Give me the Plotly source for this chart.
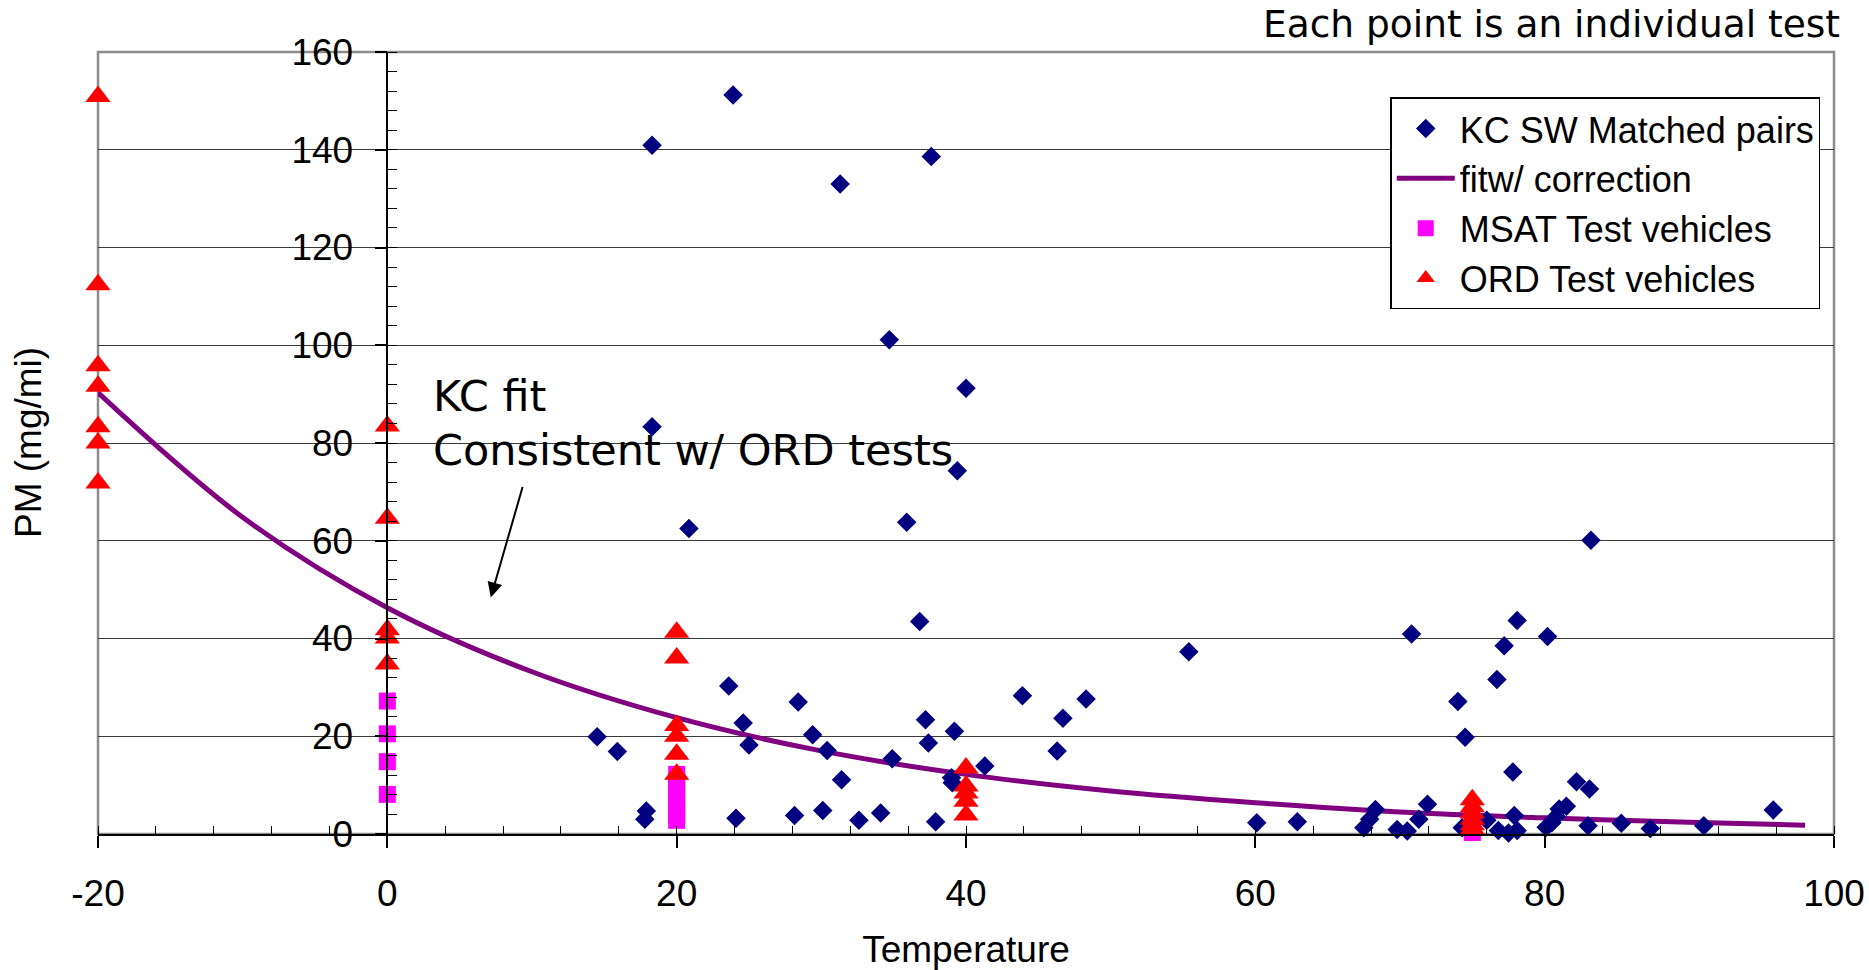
import plotly.graph_objects as go

# ---------------- data ----------------
kc_x = [18.3, 23.9, 31.3, 37.6, 34.7, 40.0, 18.3, 39.4, 35.9, 20.85,
        36.8, 55.4, 23.6, 28.4, 43.9, 48.3, 46.7, 37.2, 24.6, 39.2,
        29.4, 14.5, 37.4, 25.0, 15.9, 30.4, 46.3, 34.9, 41.3, 31.4,
        39.0, 39.05, 17.9, 17.8, 24.1, 28.15, 30.1, 32.6, 34.1, 37.9,
        60.1, 62.9, 68.3, 67.9, 67.5, 69.8, 70.5, 71.3, 71.9, 70.8,
        74.0, 74.5, 74.3, 76.0, 76.7, 77.2, 78.1, 76.8, 77.5, 78.1,
        77.9, 77.8, 80.2, 80.1, 80.5, 80.8, 81.0, 81.5, 82.2, 83.1,
        83.2, 83.0, 85.3, 87.3, 91.0, 95.8]
kc_y = [140.9, 151.2, 133.0, 138.6, 101.1, 91.2, 83.3, 74.3, 63.8, 62.5,
        43.5, 37.3, 30.3, 27.0, 28.3, 27.6, 23.7, 23.4, 22.7, 21.0,
        20.3, 19.9, 18.6, 18.2, 16.9, 17.1, 17.0, 15.4, 13.9, 11.1,
        11.5, 10.5, 4.7, 3.0, 3.2, 3.8, 4.8, 2.8, 4.3, 2.5,
        2.3, 2.5, 5.0, 3.0, 1.3, 0.9, 0.6, 3.0, 6.1, 40.9,
        27.1, 19.8, 1.3, 2.8, 31.6, 38.5, 43.7, 0.7, 0.2, 0.7,
        3.8, 12.7, 40.4, 1.4, 2.3, 3.6, 5.1, 5.7, 10.7, 9.2,
        60.1, 1.7, 2.2, 1.1, 1.7, 4.9]

msat_x = [0, 0, 0, 0, 20, 20, 20, 20, 20, 20, 20, 20, 75, 75, 75]
msat_y = [27.2, 20.5, 14.8, 8.1, 12.2, 10.8, 9.4, 8.0, 6.6, 5.2, 3.9, 2.8, 2.0, 1.0, 0.3]

ord_x = [-20, -20, -20, -20, -20, -20, -20,
         0, 0, 0, 0, 0,
         20, 20, 20, 20, 20, 20,
         40, 40, 40, 40, 40,
         75, 75, 75, 75, 75, 75]
ord_y = [150.9, 112.4, 95.8, 91.6, 83.3, 80.0, 71.8,
         83.5, 64.6, 41.8, 40.1, 34.8,
         41.3, 36.0, 22.2, 20.0, 16.3, 12.2,
         13.5, 9.8, 8.4, 6.7, 3.9,
         7.0, 5.6, 4.3, 3.0, 1.9, 1.0]

fit_x = [-20, -10, 0, 10, 20, 30, 40, 50, 60, 70, 80, 90, 98]
fit_y = [90.3, 64.8, 46.3, 33.2, 23.8, 17.0, 12.2, 8.8, 6.4, 4.5, 3.3, 2.4, 1.8]

x_ticks = [-20, 0, 20, 40, 60, 80, 100]
x_tick_labels = ["-20", "0", "20", "40", "60", "80", "100"]
y_ticks = [0, 20, 40, 60, 80, 100, 120, 140, 160]

# ---------------- figure ----------------
ARIAL = "Liberation Sans, Arial, sans-serif"
VERD = "DejaVu Sans, Verdana, sans-serif"

fig = go.Figure()

fig.add_trace(go.Scatter(
    x=fit_x, y=fit_y, mode="lines", name="fitw/ correction",
    line=dict(color="#800080", width=5, shape="spline"), legendrank=2))
fig.add_trace(go.Scatter(
    x=kc_x, y=kc_y, mode="markers", name="KC SW Matched pairs", cliponaxis=False,
    marker=dict(symbol="diamond", size=15, color="#000080"), legendrank=1))
fig.add_trace(go.Scatter(
    x=msat_x, y=msat_y, mode="markers", name="MSAT Test vehicles", cliponaxis=False,
    marker=dict(symbol="square", size=17, color="#FF00FF"), legendrank=3))
fig.add_trace(go.Scatter(
    x=ord_x, y=ord_y, mode="markers", name="ORD Test vehicles", cliponaxis=False,
    marker=dict(symbol="triangle-up", size=22, color="#FF0000"), legendrank=4))

fig.update_layout(
    width=1869, height=970,
    margin=dict(l=98, r=35, t=52, b=136, autoexpand=False),
    paper_bgcolor="white", plot_bgcolor="white",
    font=dict(family=ARIAL, size=37, color="black"),
    xaxis=dict(
        range=[-20, 100], tickvals=x_ticks, ticktext=x_tick_labels,
        ticks="outside", ticklen=12, automargin=False,
        tickwidth=1.5, tickcolor="black", showline=True, linecolor="black",
        linewidth=1.5, showgrid=False, zeroline=False,
        minor=dict(ticks="inside", ticklen=8, dtick=4, tickcolor="black", tickwidth=1.2),
        tickfont=dict(family=ARIAL, size=37), ticklabelstandoff=14,
        title=dict(text="Temperature", font=dict(family=ARIAL, size=37), standoff=23),
    ),
    yaxis=dict(
        range=[0, 160], tickvals=y_ticks, anchor="free", position=1/6,
        ticks="outside", ticklen=12, tickwidth=1.5, tickcolor="black",
        showline=True, linecolor="black", linewidth=1.5, automargin=False,
        showgrid=True, gridcolor="#3a3a3a", gridwidth=1.2, zeroline=False,
        minor=dict(ticks="inside", ticklen=9, dtick=4, tickcolor="black", tickwidth=1.2),
        tickfont=dict(family=ARIAL, size=37), ticklabelstandoff=14,
    ),
    legend=dict(
        x=0.7445, y=0.942, xanchor="left", yanchor="top",
        bgcolor="white", bordercolor="black", borderwidth=1.3,
        font=dict(family=ARIAL, size=36), tracegroupgap=0, itemwidth=58,
    ),
    showlegend=True,
)

# plot-area frame (grey, as in the reference)
fig.add_shape(type="rect", xref="x domain", yref="y domain", x0=0, x1=1, y0=0, y1=1,
              line=dict(color="#8c8c8c", width=2.5), layer="below")

fig.add_annotation(text="PM (mg/mi)", textangle=-90, xref="paper", yref="paper",
                   x=-0.0403, y=0.5, xanchor="center", yanchor="middle",
                   showarrow=False, font=dict(family=ARIAL, size=37))
fig.add_annotation(text="Each point is an individual test", xref="paper", yref="paper",
                   x=1.0045, y=1.0358, xanchor="right", yanchor="middle",
                   showarrow=False, font=dict(family=VERD, size=37.5))
fig.add_annotation(text="KC fit", x=3.0, y=89.6, xanchor="left", yanchor="middle",
                   showarrow=False, font=dict(family=VERD, size=43))
fig.add_annotation(text="Consistent w/ ORD tests", x=3.0, y=78.6, xanchor="left",
                   yanchor="middle", showarrow=False, font=dict(family=VERD, size=43))
fig.add_annotation(text="", x=7.15, y=48.4, ax=9.38, ay=71.3, axref="x", ayref="y",
                   showarrow=True, arrowhead=2, arrowsize=1.5, arrowwidth=2,
                   arrowcolor="black")

fig.write_html("out.html")
